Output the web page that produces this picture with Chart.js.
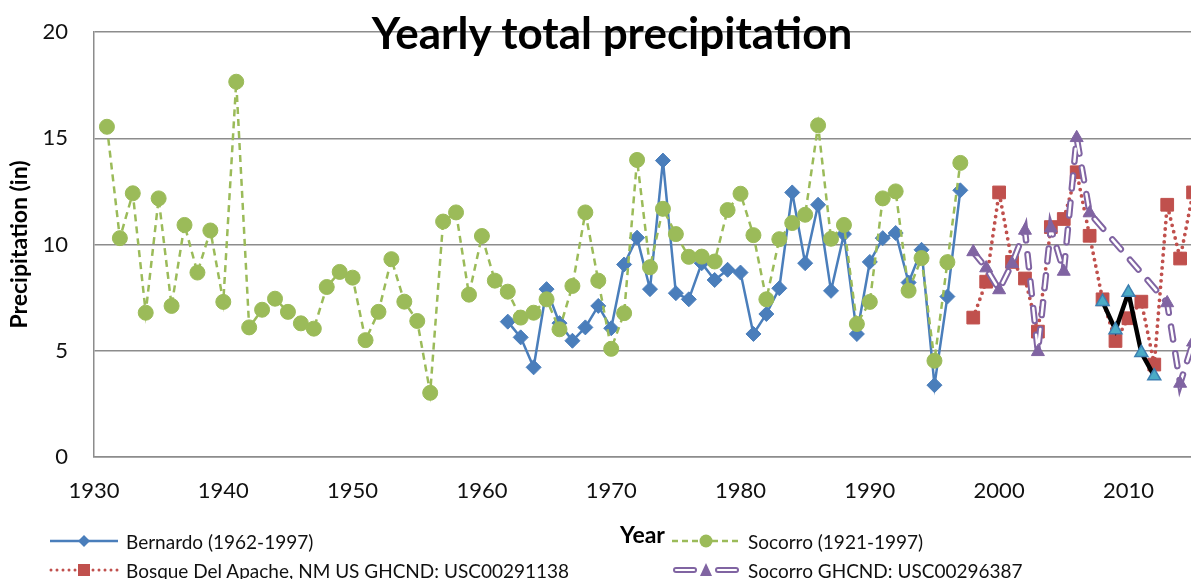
<!DOCTYPE html>
<html>
<head>
<meta charset="utf-8">
<title>Yearly total precipitation</title>
<script src="https://cdn.jsdelivr.net/npm/chart.js@4/dist/chart.umd.min.js"></script>
<style>
  html, body { margin: 0; padding: 0; background: #fff; overflow: hidden; }
  #wrap { position: relative; width: 1191px; height: 579px; font-family: Lato, "Open Sans", sans-serif; }
  #chart { position: absolute; left: 0; top: 0; }
  #title {
    position: absolute; left: 612px; top: 32px; transform: translate(-50%, -50%);
    font-weight: bold; font-size: 44px; color: #000; white-space: nowrap; line-height: 1;
  }
  .leg { position: absolute; display: flex; align-items: center; font-size: 19px; color: #111; white-space: nowrap; height: 26px; }
  .leg svg { margin-right: 6px; }
</style>
</head>
<body>
<div id="wrap">
  <canvas id="chart" width="1191" height="579"></canvas>
  <div id="title">Yearly total precipitation</div>
</div>
<script>
// Bernardo station, 1962–1997 (inches)
const bernardoYears = [1962,1963,1964,1965,1966,1967,1968,1969,1970,1971,1972,1973,1974,1975,1976,1977,1978,1979,
  1980,1981,1982,1983,1984,1985,1986,1987,1988,1989,1990,1991,1992,1993,1994,1995,1996,1997];
const bernardo = [6.37,5.63,4.22,7.9,6.3,5.47,6.1,7.11,6.06,9.06,10.32,7.9,13.95,7.71,7.42,9.12,8.33,8.81,
  8.68,5.79,6.73,7.94,12.45,9.12,11.87,7.82,10.49,5.79,9.18,10.3,10.54,8.21,9.75,3.38,7.55,12.55];

// Socorro, 1931–1997 (inches)
const socorroYears = [1931,1932,1933,1934,1935,1936,1937,1938,1939,1940,1941,1942,1943,1944,1945,1946,1947,1948,1949,
  1950,1951,1952,1953,1954,1955,1956,1957,1958,1959,1960,1961,1962,1963,1964,1965,1966,1967,1968,1969,
  1970,1971,1972,1973,1974,1975,1976,1977,1978,1979,1980,1981,1982,1983,1984,1985,1986,1987,1988,1989,
  1990,1991,1992,1993,1994,1995,1996,1997];
const socorro = [15.54,10.3,12.41,6.79,12.17,7.11,10.92,8.68,10.66,7.3,17.66,6.1,6.93,7.45,6.83,6.29,6.04,8.0,8.71,
  8.44,5.5,6.83,9.31,7.31,6.4,3.02,11.08,11.51,7.64,10.4,8.3,7.78,6.56,6.79,7.42,6.01,8.05,11.51,8.3,
  5.09,6.77,13.98,8.93,11.68,10.49,9.42,9.43,9.2,11.62,12.39,10.44,7.42,10.25,11.01,11.4,15.61,10.27,10.92,6.26,
  7.3,12.17,12.5,7.83,9.36,4.53,9.17,13.84];

// Bosque Del Apache and Socorro GHCND, 1998–2015 (inches)
const ghcndYears = [1998,1999,2000,2001,2002,2003,2004,2005,2006,2007,2008,2009,2010,2011,2012,2013,2014,2015];
const bosque = [6.56,8.25,12.45,9.18,8.4,5.9,10.82,11.2,13.4,10.41,7.42,5.46,6.53,7.31,4.35,11.87,9.34,12.45];
const socorroGhcnd = [9.65,8.89,7.86,9.1,10.66,4.95,10.77,8.73,15.02,11.48,null,null,null,null,null,7.25,3.46,5.4];

// Additional record, 2008–2012 (inches)
const recentYears = [2008,2009,2010,2011,2012];
const recent = [7.31,5.98,7.74,4.91,3.81];

// Axis settings
const xTicksFrom = 1930, xTicksStep = 10, xMax = 2014.84;
const yTicks = [0, 5, 10, 15, 20];

const pairs = (xs, ys) => xs.map((x, i) => ({ x: x, y: ys[i] }));

const BLUE = '#4a7ebb', GREEN = '#9bbb59', RED = '#c0504d', PURPLE = '#8064a2', AQUA = '#4bacc6';
const GRID = '#8c8c8c';

const datasets = [
  { label: 'Bernardo (1962-1997)', data: pairs(bernardoYears, bernardo), order: 50,
    borderColor: BLUE, backgroundColor: BLUE, borderWidth: 2.5,
    pointStyle: 'rectRot', pointRadius: 7.5, pointBorderWidth: 1, pointBorderColor: BLUE },
  { label: 'Socorro (1921-1997)', data: pairs(socorroYears, socorro), order: 40,
    borderColor: GREEN, backgroundColor: GREEN, borderWidth: 2.5, borderDash: [7, 5],
    pointStyle: 'circle', pointRadius: 7.5, pointBorderWidth: 1, pointBorderColor: GREEN },
  { label: 'Bosque Del Apache, NM US GHCND: USC00291138', data: pairs(ghcndYears, bosque), order: 30,
    borderColor: RED, backgroundColor: RED, borderWidth: 3.8, borderDash: [0, 6.5], borderCapStyle: 'round',
    pointStyle: 'rect', pointRadius: 9, pointBorderWidth: 1, pointBorderColor: RED },
  // Socorro GHCND: outlined "double" dashes — a wide purple stroke with a white core on the same path
  { label: 'Socorro GHCND: USC00296387', data: pairs(ghcndYears, socorroGhcnd), order: 22, spanGaps: true,
    borderColor: PURPLE, borderWidth: 6.5, borderDash: [13, 14], borderCapStyle: 'round', pointRadius: 0 },
  { label: 'core', data: pairs(ghcndYears, socorroGhcnd), order: 21, spanGaps: true,
    borderColor: '#ffffff', borderWidth: 2.5, borderDash: [13, 14], borderCapStyle: 'round', pointRadius: 0 },
  { label: 'Socorro GHCND markers', data: pairs(ghcndYears, socorroGhcnd), order: 20, showLine: false,
    backgroundColor: PURPLE, borderColor: PURPLE, pointStyle: 'triangle', pointRadius: 7.5, pointBorderWidth: 1 },
  { label: 'recent', data: pairs(recentYears, recent), order: 10,
    borderColor: '#000000', borderWidth: 4.5, backgroundColor: AQUA,
    pointStyle: 'triangle', pointRadius: 7.5, pointBorderWidth: 1.5, pointBorderColor: '#3c7fb1' }
];
datasets.forEach(d => { d.clip = false; d.tension = 0; });

new Chart(document.getElementById('chart'), {
  type: 'line',
  data: { datasets: datasets },
  options: {
    responsive: false,
    animation: false,
    devicePixelRatio: 1,
    layout: { autoPadding: false, padding: { top: 32, left: 0, right: 0, bottom: 0 } },
    plugins: { legend: { display: false }, title: { display: false }, tooltip: { enabled: false } },
    scales: {
      x: {
        type: 'linear', min: xTicksFrom, max: xMax,
        grid: { display: false, drawTicks: false },
        border: { display: true, color: GRID, width: 1.5 },
        ticks: {
          stepSize: xTicksStep, includeBounds: false, padding: 21, color: '#111',
          font: { family: 'Lato', size: 22 }, maxRotation: 0,
          callback: v => String(v)
        },
        title: { display: true, text: 'Year', color: '#000',
          font: { family: 'Lato', size: 23, weight: 'bold' }, padding: { top: 0, bottom: 30 } },
        afterFit: s => { s.height = 122; }
      },
      y: {
        type: 'linear', min: 0, max: 20,
        afterBuildTicks: s => { s.ticks = yTicks.map(v => ({ value: v })); },
        // invisible tick marks keep the labels clear of the axis line
        grid: { color: GRID, lineWidth: 1.5, drawTicks: true, tickLength: 24, tickColor: 'rgba(0,0,0,0)' },
        border: { display: true, color: GRID, width: 1.5 },
        ticks: { padding: 2, color: '#111', font: { family: 'Lato', size: 22 } },
        title: { display: true, text: 'Precipitation (in)', color: '#000',
          font: { family: 'Lato', size: 23, weight: 'bold' }, padding: { top: 6, bottom: 0 } },
        afterFit: s => { s.width = 94; }
      }
    }
  }
});

// Legend entries with line/marker samples
const legendItems = [
  { text: 'Bernardo (1962-1997)', left: 48, top: 541, kind: 'blue' },
  { text: 'Socorro (1921-1997)', left: 670, top: 541, kind: 'green' },
  { text: 'Bosque Del Apache, NM US GHCND: USC00291138', left: 48, top: 570, kind: 'red' },
  { text: 'Socorro GHCND: USC00296387', left: 670, top: 570, kind: 'purple' }
];
const samples = {
  blue: '<line x1="2" y1="13" x2="70" y2="13" stroke="' + BLUE + '" stroke-width="2.5"/>' +
        '<polygon points="36,7 42,13 36,19 30,13" fill="' + BLUE + '"/>',
  green: '<line x1="2" y1="13" x2="70" y2="13" stroke="' + GREEN + '" stroke-width="2.5" stroke-dasharray="6,4"/>' +
         '<circle cx="36" cy="13" r="6.5" fill="' + GREEN + '"/>',
  red: '<line x1="3" y1="13" x2="70" y2="13" stroke="' + RED + '" stroke-width="3" stroke-dasharray="0,6" stroke-linecap="round"/>' +
       '<rect x="30" y="7" width="12" height="12" fill="' + RED + '"/>',
  purple: '<line x1="6" y1="13" x2="24" y2="13" stroke="' + PURPLE + '" stroke-width="6" stroke-linecap="round"/>' +
          '<line x1="6" y1="13" x2="24" y2="13" stroke="#fff" stroke-width="2.2" stroke-linecap="round"/>' +
          '<line x1="48" y1="13" x2="66" y2="13" stroke="' + PURPLE + '" stroke-width="6" stroke-linecap="round"/>' +
          '<line x1="48" y1="13" x2="66" y2="13" stroke="#fff" stroke-width="2.2" stroke-linecap="round"/>' +
          '<polygon points="36,6 42,19 30,19" fill="' + PURPLE + '"/>'
};
const wrap = document.getElementById('wrap');
legendItems.forEach(it => {
  const el = document.createElement('div');
  el.className = 'leg';
  el.style.left = it.left + 'px';
  el.style.top = (it.top - 13) + 'px';
  el.innerHTML = '<svg width="72" height="26">' + samples[it.kind] + '</svg><span>' + it.text + '</span>';
  wrap.appendChild(el);
});
</script>
</body>
</html>
